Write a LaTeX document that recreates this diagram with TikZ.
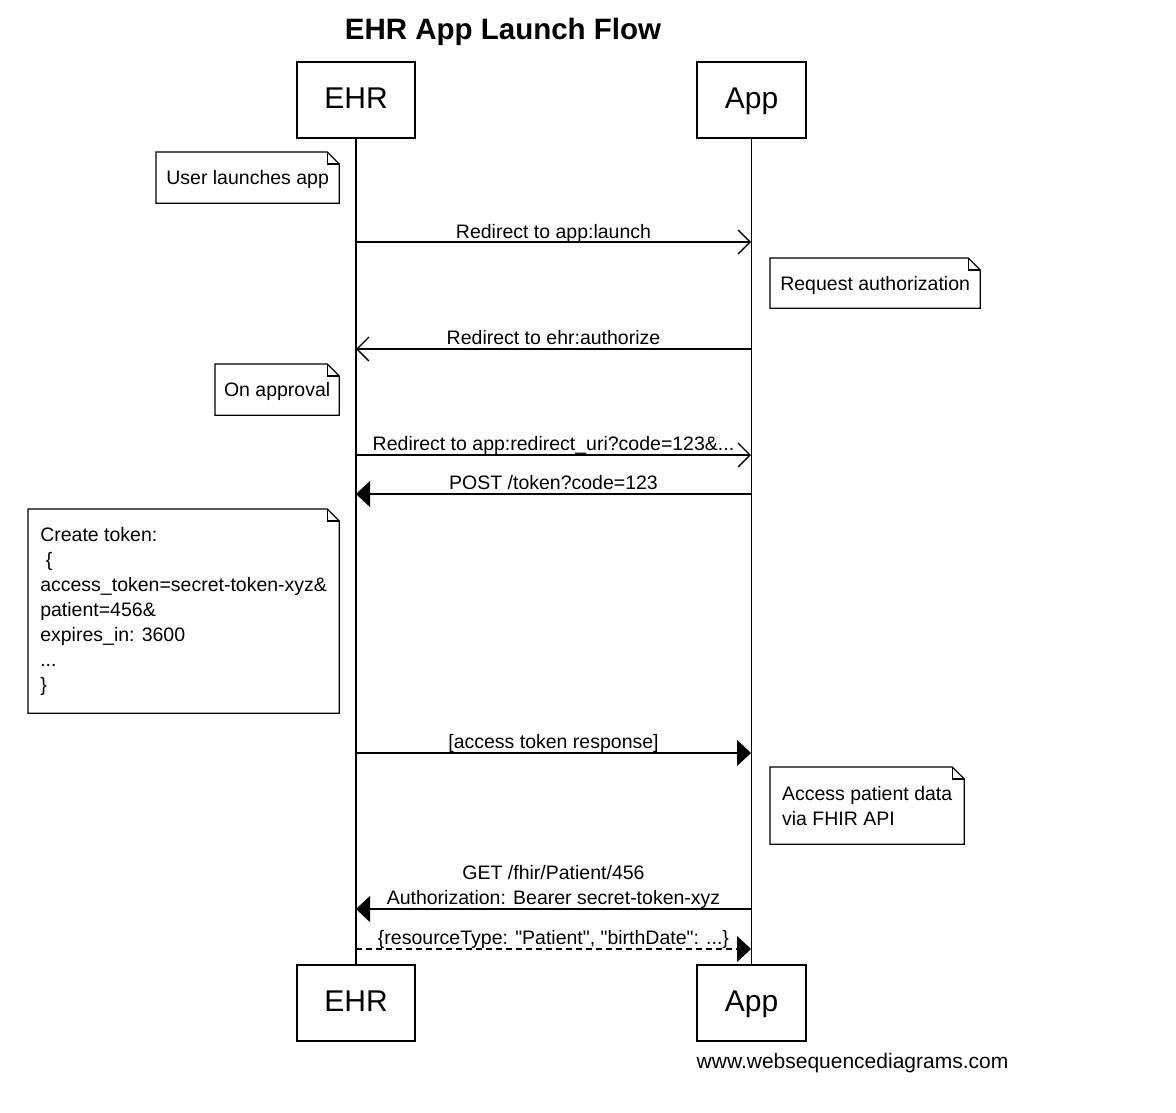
\documentclass[tikz,border=0pt]{standalone}
\usepackage{fontspec}
\newfontfamily\lsans{Liberation Sans}
\usetikzlibrary{arrows.meta}
\begin{document}
\begin{tikzpicture}[x=1pt,y=-1pt,line width=1.3pt,
  actor/.style={draw,minimum height=76pt,inner sep=0pt,text height=21.5pt,text depth=5pt,
    font=\lsans\fontsize{30}{36}\selectfont},
  notebox/.style={inner sep=0pt,align=left,anchor=north west,
    font=\lsans\fontsize{19.5}{25}\selectfont},
  oneline/.style={text depth=0pt},
  lbl/.style={anchor=base,inner sep=0pt,align=center,
    font=\lsans\fontsize{19.5}{25}\selectfont},
  msgopen/.style={-{Straight Barb[length=12pt,width=24pt,line width=1.3pt]}},
  msgfill/.style={-{Triangle[length=14pt,width=26pt]}},
  msgdash/.style={msgfill,dash pattern=on 6pt off 4pt}
]
\useasboundingbox[fill=white] (0,0) rectangle (1176,1112);

% title
\node[anchor=base,inner sep=0pt,font=\lsans\bfseries\fontsize{29.5}{34}\selectfont]
  (title) at (503,39) {EHR App Launch Flow};

% actors
\node[actor,minimum width=118pt] (ehrT) at (356,100) {EHR};
\node[actor,minimum width=109pt] (appT) at (751.5,100) {App};
\node[actor,minimum width=118pt] (ehrB) at (356,1003) {EHR};
\node[actor,minimum width=109pt] (appB) at (751.5,1003) {App};

% lifelines
\draw (ehrT.south) -- (ehrB.north);
\draw (appT.south) -- (appB.north);

% notes
\node[notebox,oneline,minimum width=182pt,minimum height=50pt] (n1) at (156,152) {User launches app};
\node[notebox,oneline,minimum width=209pt,minimum height=49pt] (n2) at (770,258) {Request authorization};
\node[notebox,oneline,minimum width=123pt,minimum height=50pt] (n3) at (215,364) {On approval};
\node[notebox,minimum width=310pt,minimum height=203pt] (n4) at (28,509)
  {Create token:\\\hspace*{5.5pt}\{\\access\_token=secret-token-xyz\&\\patient=456\&\\expires\_in: 3600\\...\\\}};
\node[notebox,minimum width=193pt,minimum height=76pt] (n5) at (770,767)
  {Access patient data\\via FHIR API};
\foreach \n in {n1,n2,n3,n4,n5}{
  \draw (\n.north west) -- ([xshift=-12pt]\n.north east) -- ([yshift=-12pt]\n.north east)
    -- (\n.south east) -- (\n.south west) -- cycle;
  \draw ([xshift=-12pt]\n.north east) |- ([yshift=-12pt]\n.north east);
}

% message end points
\coordinate (m1e) at (356,242); \coordinate (m1a) at (751,242);
\coordinate (m2e) at (356,349); \coordinate (m2a) at (751,349);
\coordinate (m3e) at (356,455); \coordinate (m3a) at (751,455);
\coordinate (m4e) at (356,494); \coordinate (m4a) at (751,494);
\coordinate (m5e) at (356,753); \coordinate (m5a) at (751,753);
\coordinate (m6e) at (356,909); \coordinate (m6a) at (751,909);
\coordinate (m7e) at (356,949); \coordinate (m7a) at (751,949);

\draw[msgopen] (m1e) -- (m1a);
\draw[msgopen] (m2a) -- (m2e);
\draw[msgopen] (m3e) -- (m3a);
\draw[msgfill] (m4a) -- (m4e);
\draw[msgfill] (m5e) -- (m5a);
\draw[msgfill] (m6a) -- (m6e);
\draw[msgdash] (m7e) -- (m7a);

% labels
\node[lbl] (l1) at (553.5,238) {Redirect to app:launch};
\node[lbl] (l2) at (553.5,344) {Redirect to ehr:authorize};
\node[lbl] (l3) at (553.5,450) {Redirect to app:redirect\_uri?code=123\&...};
\node[lbl] (l4) at (553.5,489) {POST /token?code=123};
\node[lbl] (l5) at (553.5,748) {[access token response]};
\node[lbl] (l6) at (553.5,904) {GET /fhir/Patient/456\\Authorization: Bearer secret-token-xyz};
\node[lbl] (l7) at (553.5,944) {\{resourceType: "Patient", "birthDate": ...\}};

% watermark
\node[anchor=base,inner sep=0pt,font=\lsans\fontsize{21}{25}\selectfont]
  (wm) at (852.5,1068) {www.websequencediagrams.com};
\end{tikzpicture}
\end{document}
